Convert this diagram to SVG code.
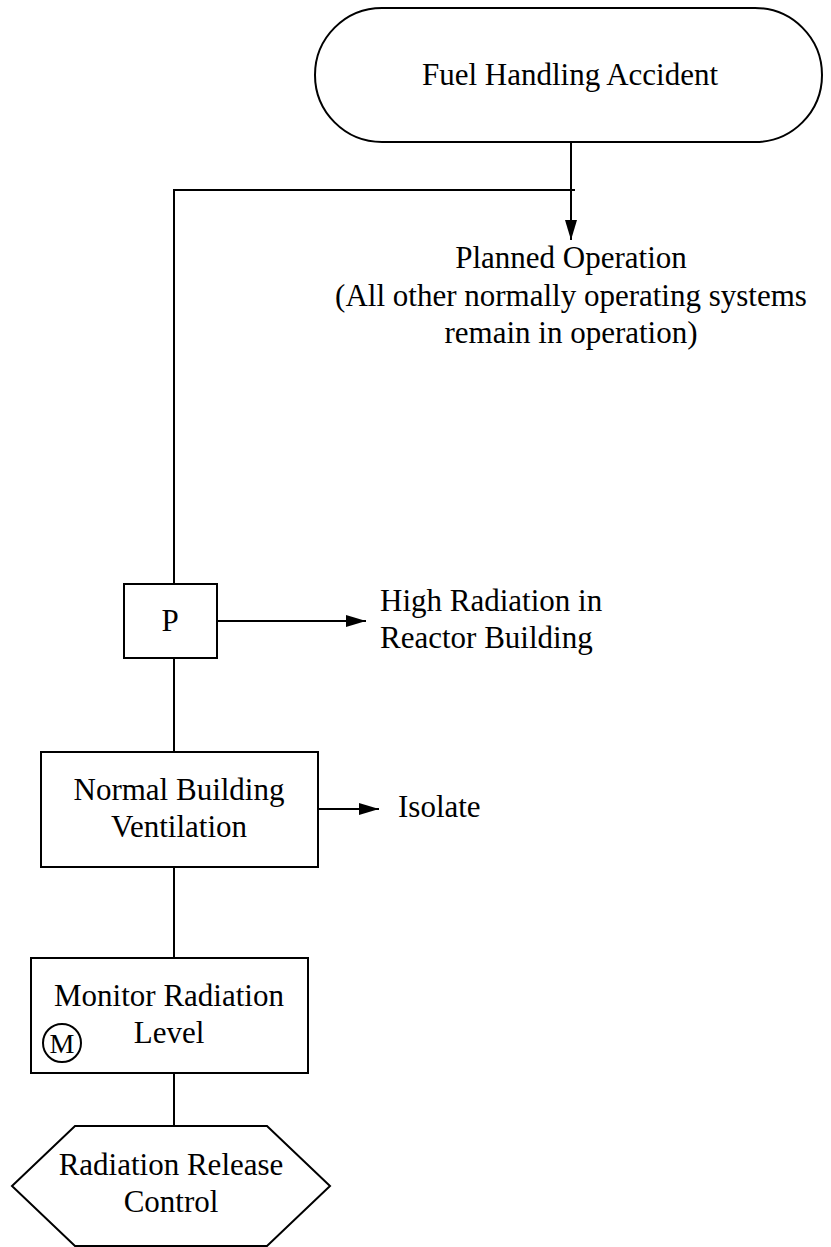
<svg xmlns="http://www.w3.org/2000/svg" width="831" height="1247" viewBox="0 0 831 1247">
<style>
.s{fill:#fff;stroke:#000;stroke-width:2}
.c{fill:none;stroke:#000;stroke-width:2}
text{font-family:"Liberation Serif","Times New Roman",serif;font-size:31px;fill:#000}
.m{text-anchor:middle}
</style>
<defs>
<marker id="ah2" viewBox="0 0 20 12" refX="20" refY="6" markerWidth="20" markerHeight="12" markerUnits="userSpaceOnUse" orient="auto"><path d="M0,0 L20,6 L0,12 Z" fill="#000"/></marker>
</defs>
<g id="connectors">
<line class="c" x1="571" y1="142" x2="571" y2="240" marker-end="url(#ah2)"/>
<polyline class="c" points="575,190 174,190 174,584"/>
<line class="c" x1="217" y1="621" x2="366" y2="621" marker-end="url(#ah2)"/>
<line class="c" x1="174" y1="658" x2="174" y2="752"/>
<line class="c" x1="318" y1="809" x2="379" y2="809" marker-end="url(#ah2)"/>
<line class="c" x1="174" y1="867" x2="174" y2="958"/>
<line class="c" x1="174" y1="1073" x2="174" y2="1126"/>
</g>
<g id="fuel">
<rect class="s" x="315" y="8" width="507" height="134" rx="67" ry="67"/>
<text class="m" x="570" y="85">Fuel Handling Accident</text>
</g>
<g id="planned">
<text class="m" x="571" y="268">Planned Operation</text>
<text class="m" x="571" y="306">(All other normally operating systems</text>
<text class="m" x="571" y="343">remain in operation)</text>
</g>
<g id="p">
<rect class="s" x="124" y="584" width="93" height="74"/>
<text class="m" x="170" y="631">P</text>
</g>
<g id="highrad">
<text x="380" y="611">High Radiation in</text>
<text x="380" y="648">Reactor Building</text>
</g>
<g id="nbv">
<rect class="s" x="41" y="752" width="277" height="115"/>
<text class="m" x="179" y="800">Normal Building</text>
<text class="m" x="179" y="837">Ventilation</text>
</g>
<g id="isolate">
<text x="398" y="817">Isolate</text>
</g>
<g id="mrl">
<rect class="s" x="31" y="958" width="277" height="115"/>
<text class="m" x="169" y="1006">Monitor Radiation</text>
<text class="m" x="169" y="1043">Level</text>
<circle class="s" cx="62" cy="1043" r="19"/>
<text class="m" x="62" y="1053" style="font-size:28px">M</text>
</g>
<g id="rrc">
<polygon class="s" points="75,1126 267,1126 330,1186 267,1246 75,1246 12,1186"/>
<text class="m" x="171" y="1175">Radiation Release</text>
<text class="m" x="171" y="1212">Control</text>
</g>
</svg>
